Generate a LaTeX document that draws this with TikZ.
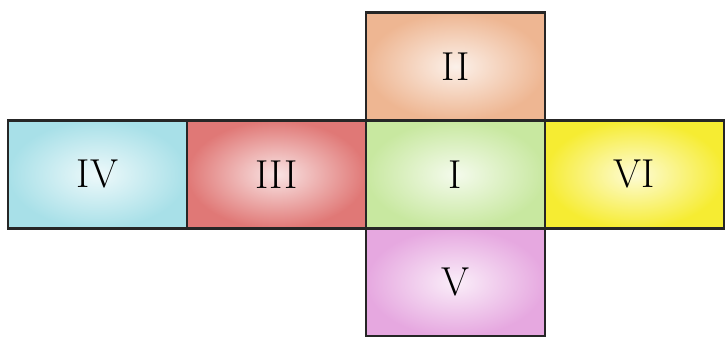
\documentclass[tikz,border=0pt]{standalone}
\usetikzlibrary{positioning}
\definecolor{faceI}{RGB}{200,232,160}
\definecolor{faceII}{RGB}{238,182,146}
\definecolor{faceIII}{RGB}{224,120,118}
\definecolor{faceIV}{RGB}{168,224,232}
\definecolor{faceV}{RGB}{230,168,224}
\definecolor{faceVI}{RGB}{246,236,50}
\tikzset{face/.style={draw=black!85, line width=1.3pt, minimum width=3.58cm, minimum height=2.16cm,
    inner sep=0pt, outer sep=0pt, font=\fontsize{23}{25}\selectfont},
  tint/.style={shading=radial, inner color=white!80!#1, outer color=#1}}

\begin{document}
\begin{tikzpicture}
  \useasboundingbox (0,0) rectangle (14.52,6.72);
  % middle row of the net
  \node[face, tint=faceIV] (iv) at (1.95,3.23) {IV};
  \node[face, tint=faceIII, right=0pt of iv] (iii) {III};
  \node[face, tint=faceI, right=0pt of iii] (i) {I};
  \node[face, tint=faceVI, right=0pt of i] (vi) {VI};
  % top and bottom faces
  \node[face, tint=faceII, above=0pt of i] (ii) {II};
  \node[face, tint=faceV, below=0pt of i] (v) {V};
\end{tikzpicture}
\end{document}
